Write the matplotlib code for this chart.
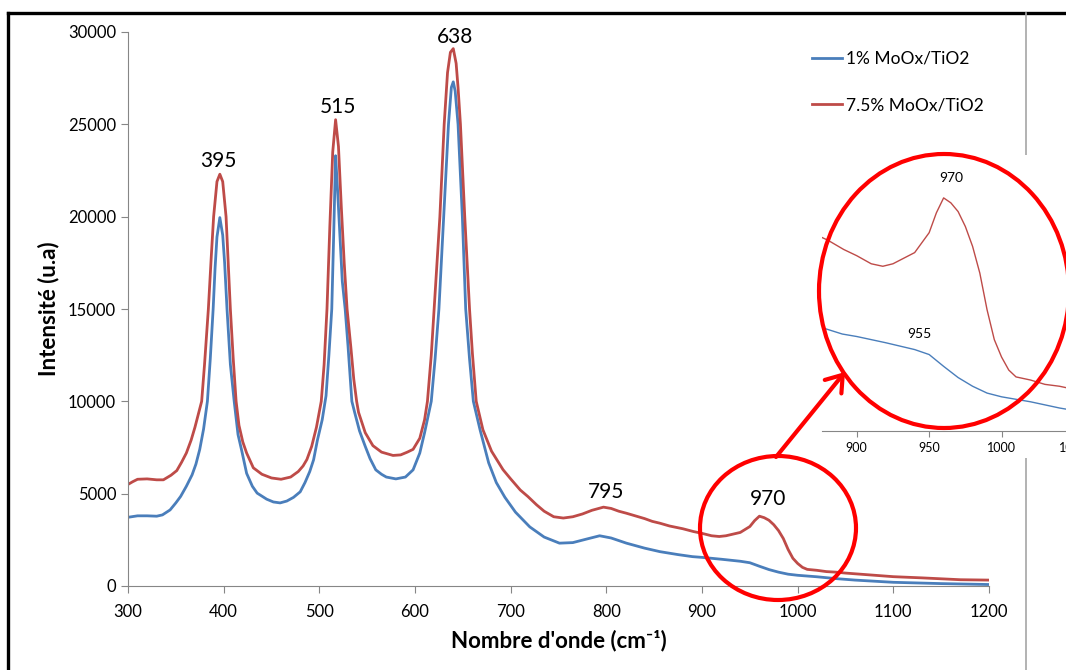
import numpy as np
import matplotlib
matplotlib.use('Agg')
import matplotlib.pyplot as plt
from matplotlib.patches import Ellipse, Rectangle, FancyArrowPatch
from matplotlib.lines import Line2D

plt.rcParams['font.family'] = ['Lato', 'DejaVu Sans']

# Raman spectra (wavenumber, intensity)
x_bleu = [300, 310, 320, 330, 336, 344, 350, 355, 361, 367, 371, 375, 379, 383, 386, 389, 391, 393, 396,
          399, 401, 403.5, 407, 411, 415, 419, 424, 430, 435, 445, 452, 459, 466, 473, 480, 485, 490,
          494, 498, 503, 507, 510, 513, 515, 517, 519, 521.5, 524, 527, 530, 534, 537, 542,
          548, 553, 559, 565, 570, 580, 590, 598, 605, 610, 617, 621, 625, 630, 635, 638, 640, 642, 645,
          649.5, 653, 657, 661, 668, 677, 685, 694, 705, 720, 735, 751, 765, 780, 793, 805, 821, 840, 856,
          875, 890, 900, 920, 940, 950, 960, 970, 980, 990, 1000, 1020, 1040, 1060, 1100, 1150, 1200]
y_bleu = [3720, 3800, 3800, 3780, 3850, 4120, 4500, 4850, 5400, 6020, 6600, 7400, 8500, 10000, 12300,
          15000, 17200, 18900, 19950, 19000, 17500, 15000, 12000, 10000, 8200, 7300, 6100, 5400, 5030,
          4700, 4550, 4500, 4600, 4800, 5100, 5600, 6200, 6835, 7900, 9000, 10300, 12500, 15000, 19000,
          23300, 21500, 19000, 16500, 15000, 12980, 10000, 9385, 8400, 7560, 6900, 6290,
          6050, 5900, 5800, 5900, 6290, 7200, 8300, 10000, 12300, 15000, 20000, 25000, 27000, 27300,
          26800, 25000, 20000, 15000, 12300, 10000, 8460, 6670, 5600, 4800, 4000, 3200, 2650, 2320, 2350,
          2550, 2720, 2600, 2320, 2050, 1860, 1700, 1590, 1550, 1450, 1340, 1260, 1070, 890, 750, 640,
          580, 500, 400, 320, 200, 130, 80]

x_rouge = [300, 305, 310, 320, 330, 337, 345, 351, 356, 361, 366, 370, 374, 377, 380, 384, 387, 389.5,
           393, 396, 399, 402.5, 405, 407, 410, 413, 416, 420, 424, 431, 440, 450, 460, 470, 478, 483,
           487, 492, 497, 502, 505, 508, 511, 514, 517, 520, 523, 526, 529, 533, 536, 539,
           541, 548, 556, 565, 577, 585, 592, 598, 605, 610, 613, 617, 620, 626, 630.5, 634, 637, 640,
           643, 645, 647.5, 652, 657, 660, 664, 671, 680, 692, 700, 710, 718, 727, 735, 745, 755, 765,
           775, 785, 797, 805, 813, 821, 830, 840, 848, 856, 866, 880, 891, 900, 910, 918, 925, 930, 940,
           945, 950, 955, 960, 965, 970, 975, 980, 985, 990, 995, 1000, 1005, 1010, 1020, 1030, 1040,
           1050, 1070, 1100, 1130, 1170, 1200]
y_rouge = [5500, 5650, 5780, 5800, 5750, 5750, 6000, 6250, 6700, 7200, 7900, 8600, 9400, 10000, 12000,
           15000, 17800, 20000, 21900, 22300, 21900, 20000, 17200, 15000, 12300, 10000,
           8700, 7800, 7200, 6400, 6050, 5850, 5780, 5900, 6200, 6500, 6850, 7560, 8600, 10000, 12000,
           15000, 19500, 23500, 25250, 23800, 20500, 17500, 15000, 12900, 11200,
           10000, 9400, 8300, 7600, 7250, 7070, 7100, 7250, 7400, 8000, 9000, 10000, 12500, 15000, 20000,
           25000, 27800, 28900, 29100, 28300, 27000, 25000, 20000, 15000, 12600, 10000, 8460, 7300, 6300,
           5800, 5200, 4845, 4400, 4050, 3750, 3680, 3750, 3900, 4100, 4270, 4200, 4050, 3940, 3800, 3650,
           3500, 3400, 3250, 3100, 2950, 2850, 2720, 2680, 2720, 2780, 2900, 3060, 3220, 3540, 3780, 3700,
           3560, 3320, 3000, 2570, 1980, 1500, 1220, 1010, 900, 850, 780, 750, 700, 620, 505, 440, 340,
           320]

pics = ['395', '515', '638', '795', '970']
pics_x = [394, 519, 642, 800, 969]
pics_dy = [2, 2, 1, 4, 6]

bleu = '#4a7ebb'
rouge = '#be4b48'
gris = '#868686'
W, H = 1066, 670

fig = plt.figure(figsize=(W / 100, H / 100), dpi=100)


def fx(px):
    return px / W


def fy(py):
    return 1 - py / H


ax = fig.add_axes([fx(128), fy(586), fx(989 - 128), (586 - 32) / H])
ax.plot(x_bleu, y_bleu, color=bleu, lw=2.0, label='1% MoOx/TiO2')
ax.plot(x_rouge, y_rouge, color=rouge, lw=2.0, label='7.5% MoOx/TiO2')
ax.set_xlim(300, 1200)
ax.set_ylim(0, 30000)
ax.set_xticks(range(300, 1201, 100))
ax.set_yticks(range(0, 30001, 5000))
for s in ['top', 'right']:
    ax.spines[s].set_visible(False)
for s in ['left', 'bottom']:
    ax.spines[s].set_color(gris)
ax.tick_params(direction='out', length=5, color=gris, labelsize=12)
ax.tick_params(axis='x', pad=8)
ax.set_xlabel("Nombre d'onde (cm⁻¹)", fontsize=16, fontweight='bold', labelpad=7)
ax.set_ylabel('Intensité (u.a)', fontsize=16, fontweight='bold', labelpad=6)

xr = np.array(x_rouge)
yr = np.array(y_rouge)
for lab, px, dy in zip(pics, pics_x, pics_dy):
    ymax = yr[(xr > px - 8) & (xr < px + 8)].max()
    ax.annotate(lab, xy=(px, ymax), xytext=(0, dy), textcoords='offset points',
                ha='center', va='bottom', fontsize=15)

ax.legend(loc='upper left', bbox_to_anchor=(fx(812), fy(51)), bbox_transform=fig.transFigure,
          frameon=False, fontsize=12.5, handlelength=1.7, handletextpad=0.25,
          labelspacing=1.75, borderpad=0, borderaxespad=0)

# cadre
fig.add_artist(Line2D([fx(8), fx(8)], [fy(13), 0], color='black', lw=2.4, zorder=1))
fig.add_artist(Line2D([fx(8), 1], [fy(13), fy(13)], color='black', lw=2.4, zorder=1))
fig.add_artist(Line2D([fx(1026), fx(1026)], [fy(13), 0], color='#a6a6a6', lw=1.2, zorder=1))

# zoom
fig.add_artist(Rectangle((fx(815), fy(458)), fx(1066 - 815), (458 - 155) / H,
                         facecolor='white', edgecolor='none', zorder=2))
axz = fig.add_axes([fx(822), fy(431), fx(278), (431 - 155) / H], zorder=3)
axz.patch.set_alpha(0)
axz.plot(x_bleu, y_bleu, color=bleu, lw=1.0)
axz.plot(x_rouge, y_rouge, color=rouge, lw=1.0)
axz.set_xlim(876, 1068)
axz.set_ylim(30, 4470)
axz.set_xticks([900, 950, 1000, 1050])
axz.set_yticks([])
for s in ['top', 'right', 'left']:
    axz.spines[s].set_visible(False)
axz.spines['bottom'].set_color(gris)
axz.tick_params(direction='out', length=4, color=gris, labelsize=9, pad=4)
axz.text(965.5, 4100, '970', ha='center', va='center', fontsize=10)
axz.text(943.5, 1590, '955', ha='center', va='center', fontsize=10)

fig.add_artist(Ellipse((fx(778), fy(528)), fx(156), 144 / H, fill=False,
                       edgecolor='#ff0000', lw=3, zorder=5))
fig.add_artist(Ellipse((fx(944), fy(291)), fx(250), 274 / H, fill=False,
                       edgecolor='#ff0000', lw=3, zorder=5))
fig.add_artist(FancyArrowPatch((fx(776), fy(457)), (fx(845), fy(372)), transform=fig.transFigure,
                               arrowstyle='->,head_length=0.5,head_width=0.35', mutation_scale=22,
                               color='#ff0000', lw=3, shrinkA=0, shrinkB=0, zorder=5))

fig.savefig('out.png', dpi=100)
